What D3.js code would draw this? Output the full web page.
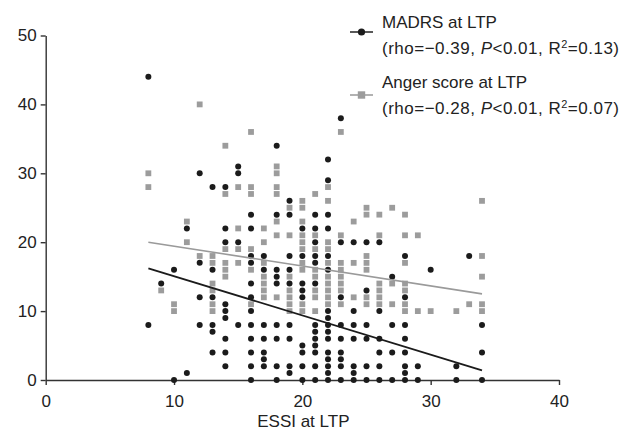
<!DOCTYPE html>
<html>
<head>
<meta charset="utf-8">
<script src="https://cdn.jsdelivr.net/npm/d3@7"></script>
<style>
  body { margin: 0; background: #fff; }
  svg text { font-family: "Liberation Sans", Arial, sans-serif; fill: #222; }
</style>
</head>
<body>
<div id="chart"></div>
<script>
// MADRS at LTP, [ESSI, score]
const madrsPoints = [
  [8,44],[8,8],[9,14],[10,16],[10,0],[11,22],[11,1],
  [12,30],[12,17],[12,12],[12,8],
  [13,28],[13,16],[13,12],[13,8],[13,7],[13,4],
  [14,28],[14,22],[14,20],[14,11],[14,10],[14,9],[14,6],[14,4],[14,2],
  [15,31],[15,30],[15,20],[15,8],
  [16,24],[16,22],[16,18],[16,17],[16,14],[16,12],[16,10],[16,8],[16,6],[16,4],[16,2],[16,0],
  [17,18],[17,16],[17,8],[17,6],[17,4],[17,3],[17,2],
  [18,34],[18,24],[18,16],[18,15],[18,14],[18,8],[18,6],[18,2],[18,0],
  [19,26],[19,24],[19,18],[19,16],[19,14],[19,8],[19,6],[19,2],[19,1],
  [20,22],[20,18],[20,14],[20,13],[20,12],[20,5],[20,4],[20,2],[20,0],
  [21,24],[21,22],[21,20],[21,18],[21,17],[21,14],[21,8],[21,7],[21,6],[21,5],[21,4],[21,2],[21,0],
  [22,32],[22,29],[22,24],[22,22],[22,18],[22,16],[22,10],[22,9],[22,8],[22,7],[22,6],[22,4],[22,3],[22,2],[22,1],[22,0],
  [23,38],[23,20],[23,12],[23,8],[23,6],[23,4],[23,3],[23,2],[23,0],
  [24,20],[24,10],[24,8],[24,6],[24,2],[24,1],[24,0],
  [25,20],[25,13],[25,8],[25,6],[25,2],[25,0],
  [26,20],[26,10],[26,6],[26,4],[26,2],[26,0],
  [27,15],[27,8],[27,4],[27,0],
  [28,18],[28,12],[28,8],[28,6],[28,4],[28,2],[28,1],[28,0],
  [29,2],[29,0],[30,16],[32,2],[32,0],[33,18],[34,8],[34,4],[34,0]
];

// Anger score at LTP, [ESSI, score]
const angerPoints = [
  [8,30],[8,28],[9,13],[10,11],[10,10],[11,23],[11,20],[12,40],[12,18],
  [13,18],[13,17],[13,14],[13,13],[13,11],[13,10],
  [14,34],[14,27],[14,19],[14,17],[14,16],[14,15],
  [15,28],[15,22],[15,19],[15,17],
  [16,36],[16,28],[16,27],[16,19],[16,16],[16,11],
  [17,22],[17,20],[17,17],[17,15],[17,14],[17,13],[17,12],
  [18,31],[18,30],[18,28],[18,27],[18,23],[18,21],[18,12],
  [19,25],[19,21],[19,15],[19,13],[19,12],[19,11],[19,10],
  [20,26],[20,25],[20,23],[20,21],[20,20],[20,19],[20,17],[20,16],[20,11],[20,10],
  [21,27],[21,21],[21,19],[21,16],[21,15],[21,13],[21,12],[21,10],
  [22,28],[22,26],[22,20],[22,19],[22,17],[22,15],[22,14],[22,13],[22,12],[22,11],
  [23,36],[23,21],[23,17],[23,16],[23,15],[23,14],[23,13],[23,11],
  [24,23],[24,17],[24,12],
  [25,25],[25,24],[25,18],[25,17],[25,16],[25,12],[25,11],
  [26,24],[26,21],[26,14],[26,13],[26,12],[26,11],
  [27,25],[27,14],[27,11],
  [28,24],[28,21],[28,17],[28,14],[28,13],[28,11],[28,10],
  [29,21],[29,10],[30,10],[32,10],[33,11],
  [34,26],[34,18],[34,15],[34,11],[34,10]
];

// regression lines
const madrsFit = [[8,16.2],[34,1.4]];
const angerFit = [[8,20.0],[34,12.5]];

const xTicks = [0,10,20,30,40];
const yTicks = [0,10,20,30,40,50];
const xTitle = "ESSI at LTP";

const legendItems = [
  { name: "MADRS at LTP", rho: "−0.39", p: "<0.01", r2: "0.13", shape: "circle" },
  { name: "Anger score at LTP", rho: "−0.28", p: "<0.01", r2: "0.07", shape: "square" }
];

const width = 632, height = 431;
const black = "#1b1b1b", grey = "#9c9c9c";

const x = d3.scaleLinear().domain([0, 40]).range([45.7, 559]);
const y = d3.scaleLinear().domain([0, 50]).range([380, 35.5]);

const svg = d3.select("#chart").append("svg")
  .attr("width", width)
  .attr("height", height);

// axes
const xAxis = svg.append("g")
  .attr("transform", `translate(0,${y(0)})`)
  .call(d3.axisBottom(x).tickValues(xTicks).tickSize(5).tickSizeOuter(0).tickPadding(10));

const yAxis = svg.append("g")
  .attr("transform", `translate(${x(0)},0)`)
  .call(d3.axisLeft(y).tickValues(yTicks).tickSize(5).tickSizeOuter(0).tickPadding(4));

[xAxis, yAxis].forEach(g => {
  g.selectAll("path, line").attr("stroke", "#333").attr("stroke-width", 1.4);
  g.selectAll("text").style("font-size", "17px").attr("fill", "#222");
});

svg.append("text")
  .attr("x", (x(0) + x(40)) / 2 + 1)
  .attr("y", 427)
  .attr("text-anchor", "middle")
  .style("font-size", "17px")
  .text(xTitle);

// points: squares first, then dots
const sq = 5.8;
svg.append("g").selectAll("rect")
  .data(angerPoints)
  .join("rect")
  .attr("x", d => x(d[0]) - sq / 2)
  .attr("y", d => y(d[1]) - sq / 2)
  .attr("width", sq)
  .attr("height", sq)
  .attr("fill", grey);

svg.append("g").selectAll("circle")
  .data(madrsPoints)
  .join("circle")
  .attr("cx", d => x(d[0]))
  .attr("cy", d => y(d[1]))
  .attr("r", 3)
  .attr("fill", black);

// fit lines
const line = d3.line().x(d => x(d[0])).y(d => y(d[1]));
svg.append("path").datum(angerFit)
  .attr("d", line).attr("fill", "none")
  .attr("stroke", "#9a9a9a").attr("stroke-width", 1.6);
svg.append("path").datum(madrsFit)
  .attr("d", line).attr("fill", "none")
  .attr("stroke", black).attr("stroke-width", 1.8);

// legend
const legend = svg.append("g").attr("transform", "translate(350,0)");
const rowTop = [28, 88];
const markerY = [32, 95];

legendItems.forEach((item, i) => {
  const color = item.shape === "circle" ? black : grey;
  legend.append("line")
    .attr("x1", 0).attr("x2", 23)
    .attr("y1", markerY[i]).attr("y2", markerY[i])
    .attr("stroke", item.shape === "circle" ? "#222" : "#999")
    .attr("stroke-width", 1.5);
  if (item.shape === "circle") {
    legend.append("circle").attr("cx", 11.5).attr("cy", markerY[i]).attr("r", 3.6).attr("fill", color);
  } else {
    legend.append("rect").attr("x", 11.5 - 3.7).attr("y", markerY[i] - 3.7)
      .attr("width", 7.4).attr("height", 7.4).attr("fill", color);
  }

  legend.append("text")
    .attr("x", 32).attr("y", rowTop[i])
    .style("font-size", "17px")
    .text(item.name);

  const t = legend.append("text")
    .attr("x", 32).attr("y", rowTop[i] + 26)
    .style("font-size", "17px")
    .style("letter-spacing", "0.5px");
  t.append("tspan").text(`(rho=${item.rho}, `);
  t.append("tspan").style("font-style", "italic").text("P");
  t.append("tspan").text(`${item.p}, R`);
  t.append("tspan").attr("dy", -6).style("font-size", "11px").text("2");
  t.append("tspan").attr("dy", 6).text(`=${item.r2})`);
});
</script>
</body>
</html>
